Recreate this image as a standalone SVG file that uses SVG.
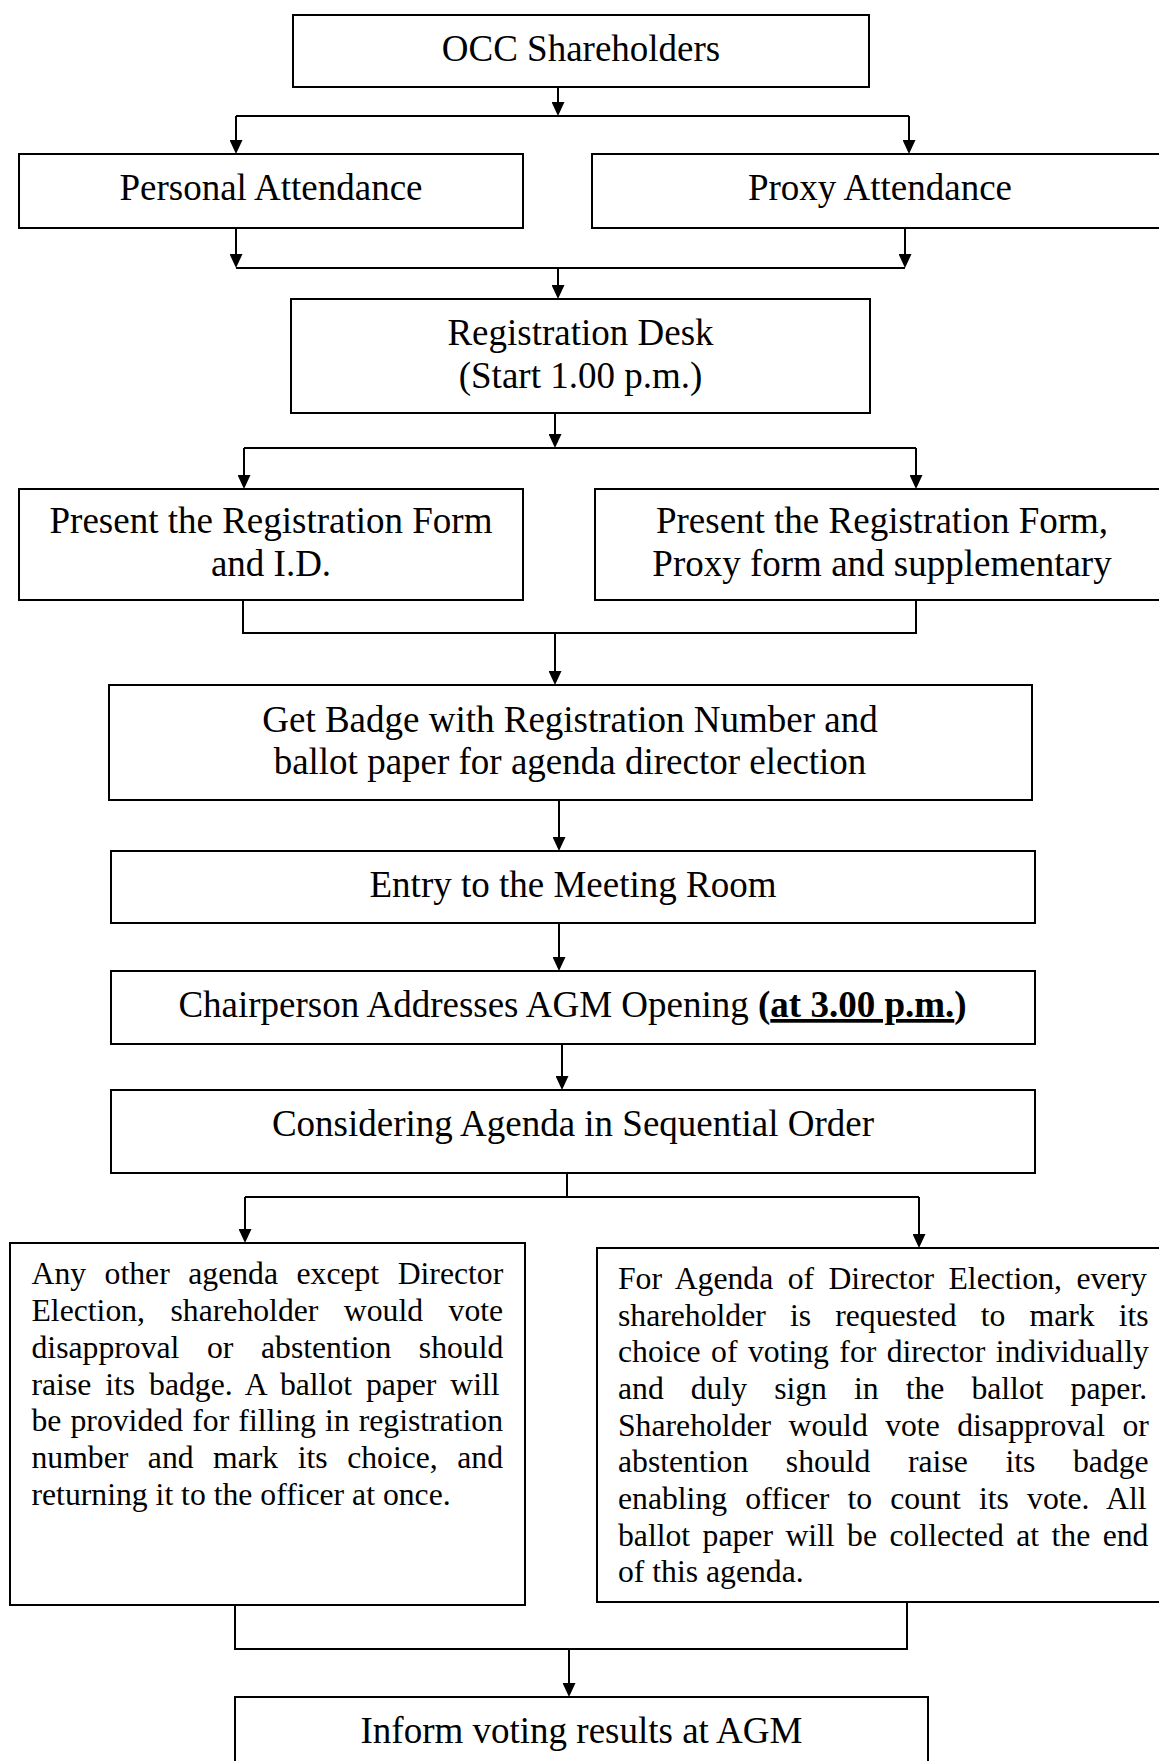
<svg xmlns="http://www.w3.org/2000/svg" width="1159" height="1761" viewBox="0 0 1159 1761">
<style>
.box{fill:#fff;stroke:#000;stroke-width:2}
.t{font-family:"Liberation Serif","Times New Roman",serif;font-size:37px;fill:#000;text-anchor:middle}
.p{font-family:"Liberation Serif","Times New Roman",serif;font-size:31.7px;fill:#000}
.c{fill:none;stroke:#000;stroke-width:2}
.a{fill:none;stroke:#000;stroke-width:2;marker-end:url(#ah)}
</style>
<defs>
<marker id="ah" viewBox="0 0 14 13" refX="1" refY="6.5" markerWidth="14" markerHeight="13" markerUnits="userSpaceOnUse" orient="auto">
<path d="M0,0 L14,6.5 L0,13 z" fill="#000"/>
</marker>
</defs>
<rect x="0" y="0" width="1159" height="1761" fill="#fff"/>
<g id="connectors">
<path class="a" d="M558,87 V103"/>
<path class="c" d="M236,116 H909"/>
<path class="a" d="M236,116 V141"/>
<path class="a" d="M909,116 V141"/>
<path class="a" d="M236,228 V255"/>
<path class="a" d="M905,228 V255"/>
<path class="c" d="M236,268 H905"/>
<path class="a" d="M558,268 V286"/>
<path class="a" d="M555,413 V435"/>
<path class="c" d="M244,448 H916"/>
<path class="a" d="M244,448 V476"/>
<path class="a" d="M916,448 V476"/>
<path class="c" d="M243,600 V633 H916 V600"/>
<path class="a" d="M555,633 V672"/>
<path class="a" d="M559,800 V838"/>
<path class="a" d="M559,923 V958"/>
<path class="a" d="M562,1044 V1077"/>
<path class="c" d="M567,1173 V1197"/>
<path class="c" d="M245,1197 H919"/>
<path class="a" d="M245,1197 V1230"/>
<path class="a" d="M919,1197 V1235"/>
<path class="c" d="M235,1605 V1649 H907 V1602"/>
<path class="a" d="M569,1649 V1684"/>
</g>
<g id="n-occ">
<rect class="box" x="293" y="15" width="576" height="72"/>
<text class="t" x="581" y="61">OCC Shareholders</text>
</g>
<g id="n-personal">
<rect class="box" x="19" y="154" width="504" height="74"/>
<text class="t" x="271" y="200">Personal Attendance</text>
</g>
<g id="n-proxy">
<rect class="box" x="592" y="154" width="578" height="74"/>
<text class="t" x="880" y="200">Proxy Attendance</text>
</g>
<g id="n-registration">
<rect class="box" x="291" y="299" width="579" height="114"/>
<text class="t" x="580.5" y="345">Registration Desk</text>
<text class="t" x="580.5" y="388">(Start 1.00 p.m.)</text>
</g>
<g id="n-present-personal">
<rect class="box" x="19" y="489" width="504" height="111"/>
<text class="t" x="271" y="533">Present the Registration Form</text>
<text class="t" x="271" y="576">and I.D.</text>
</g>
<g id="n-present-proxy">
<rect class="box" x="595" y="489" width="575" height="111"/>
<text class="t" x="882" y="533">Present the Registration Form,</text>
<text class="t" x="882" y="576">Proxy form and supplementary</text>
</g>
<g id="n-badge">
<rect class="box" x="109" y="685" width="923" height="115"/>
<text class="t" x="570" y="732">Get Badge with Registration Number and</text>
<text class="t" x="570" y="774">ballot paper for agenda director election</text>
</g>
<g id="n-entry">
<rect class="box" x="111" y="851" width="924" height="72"/>
<text class="t" x="573" y="897">Entry to the Meeting Room</text>
</g>
<g id="n-chair">
<rect class="box" x="111" y="971" width="924" height="73"/>
<text class="t" x="572.5" y="1017">Chairperson Addresses AGM Opening <tspan font-weight="bold">(<tspan text-decoration="underline">at 3.00 p.m.</tspan>)</tspan></text>
</g>
<g id="n-considering">
<rect class="box" x="111" y="1090" width="924" height="83"/>
<text class="t" x="573" y="1136">Considering Agenda in Sequential Order</text>
</g>
<g id="n-other-agenda">
<rect class="box" x="10" y="1243" width="515" height="362"/>
<text class="p" x="31.5" y="1284" word-spacing="10.6">Any other agenda except Director</text>
<text class="p" x="31.5" y="1321" word-spacing="17.6">Election, shareholder would vote</text>
<text class="p" x="31.5" y="1358" word-spacing="19.7">disapproval or abstention should</text>
<text class="p" x="31.5" y="1395" word-spacing="6">raise its badge. A ballot paper will</text>
<text class="p" x="31.5" y="1431" word-spacing="1.2">be provided for filling in registration</text>
<text class="p" x="31.5" y="1468" word-spacing="11.6">number and mark its choice, and</text>
<text class="p" x="31.5" y="1505">returning it to the officer at once.</text>
</g>
<g id="n-director-election">
<rect class="box" x="597" y="1248" width="573" height="354"/>
<text class="p" x="618" y="1289" word-spacing="6.5">For Agenda of Director Election, every</text>
<text class="p" x="618" y="1325.6" word-spacing="16.2">shareholder is requested to mark its</text>
<text class="p" x="618" y="1362" word-spacing="2.5">choice of voting for director individually</text>
<text class="p" x="618" y="1399" word-spacing="19.1">and duly sign in the ballot paper.</text>
<text class="p" x="618" y="1435.6" word-spacing="9.5">Shareholder would vote disapproval or</text>
<text class="p" x="618" y="1472" word-spacing="29.7">abstention should raise its badge</text>
<text class="p" x="618" y="1509" word-spacing="10.3">enabling officer to count its vote. All</text>
<text class="p" x="618" y="1545.6" word-spacing="4.5">ballot paper will be collected at the end</text>
<text class="p" x="618" y="1582">of this agenda.</text>
</g>
<g id="n-inform">
<rect class="box" x="235" y="1697" width="693" height="80"/>
<text class="t" x="581.5" y="1743">Inform voting results at AGM</text>
</g>
</svg>
